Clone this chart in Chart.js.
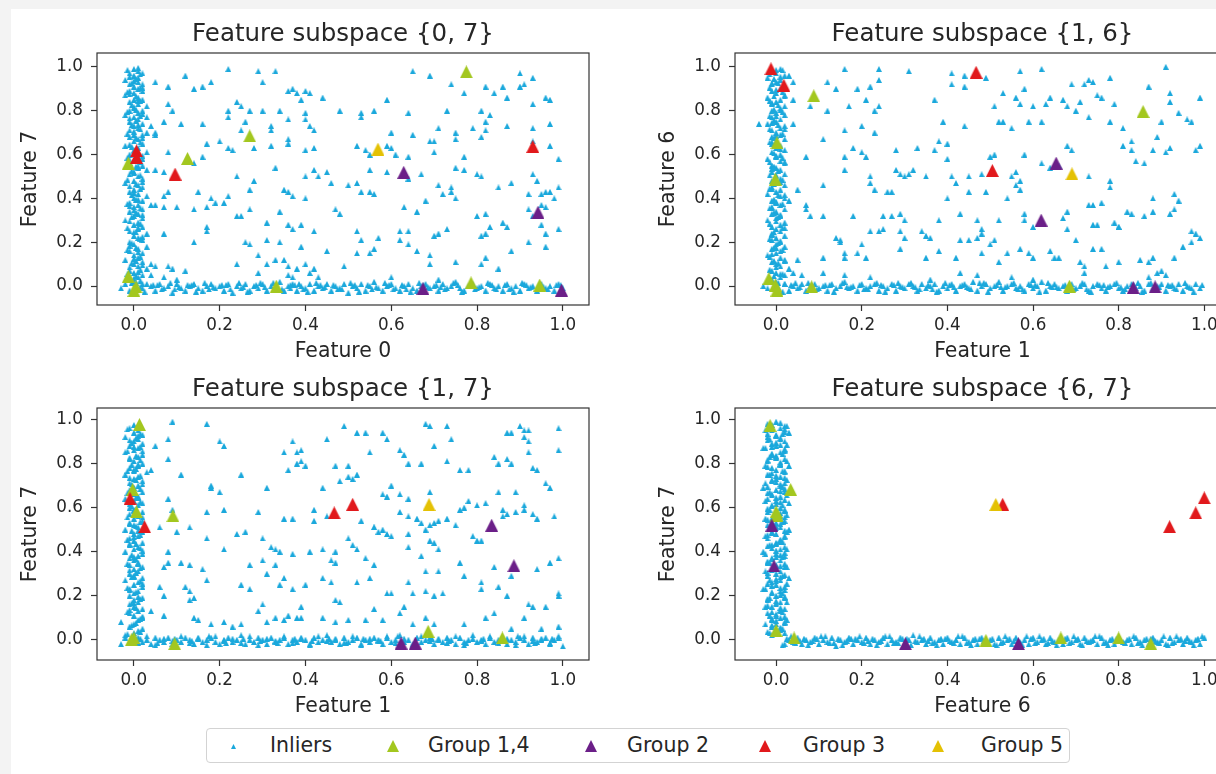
<!DOCTYPE html>
<html>
<head>
<meta charset="utf-8">
<title>Feature subspaces</title>
<script src="https://cdn.jsdelivr.net/npm/chart.js@4.4.1/dist/chart.umd.min.js"></script>
<style>
  html, body { margin: 0; padding: 0; }
  body { width: 1216px; height: 774px; overflow: hidden; position: relative; background: #f3f3f3; font-family: "DejaVu Sans", sans-serif; }
  #sheet { position: absolute; left: 11px; top: 9px; right: 0; bottom: 0; background: #fff; }
  canvas.panel { position: absolute; }
  #legend { position: absolute; left: 206px; top: 728px; width: 862px; height: 33px; border: 1px solid #d3d3d3; border-radius: 4px; background: #fff; }
  #legend .item { position: absolute; top: 0; height: 33px; line-height: 33px; font-size: 20.5px; color: #262626; white-space: nowrap; }
  #legend canvas { position: absolute; }
</style>
</head>
<body>
<div id="sheet"></div>
<canvas id="p07" class="panel" width="610" height="370" style="left:0px;top:0px"></canvas>
<canvas id="p16" class="panel" width="613" height="370" style="left:638px;top:0px"></canvas>
<canvas id="p17" class="panel" width="610" height="370" style="left:0px;top:355px"></canvas>
<canvas id="p67" class="panel" width="613" height="370" style="left:638px;top:355px"></canvas>
<div id="legend"></div>
<script>
// ---- data: flat x,y pairs per subspace ----
const tickValues = [0, 0.2, 0.4, 0.6, 0.8, 1.0];
const seriesNames = ['Inliers', 'Group 1,4', 'Group 2', 'Group 3', 'Group 5'];

// subspace {0, 7}
const p07Scatter = [
  .22,.99, .29,.98, .33,.98, .65,.98, .69,.96, .74,.92, .90,.97, .93,.95, .91,.92, .90,.91,
  .05,.93, .08,.91, .12,.96, .14,.90, .16,.91, .18,.93, .30,.93, .36,.89, .37,.90, .38,.88, .40,.89, .41,.88, .77,.88, .82,.91, .84,.88, .87,.86, .96,.86, .86,.91,
  .08,.83, .09,.80, .22,.80, .24,.84, .25,.82, .27,.80, .30,.80, .34,.80, .39,.85, .40,.79, .44,.86, .48,.80, .53,.79, .56,.80, .59,.85, .64,.79, .73,.80, .81,.80, .83,.78, .93,.83, .97,.85,
  .05,.70, .07,.75, .11,.74, .16,.74, .22,.77, .25,.71, .26,.75, .32,.73, .32,.71, .36,.76, .40,.76, .41,.73, .42,.71, .53,.77, .60,.70, .65,.69, .70,.66, .71,.72, .75,.70, .79,.72, .82,.71, .82,.75, .87,.73, .93,.72, .97,.74, .81,.68,
  .08,.61, .17,.65, .20,.66, .22,.63, .23,.62, .28,.63, .32,.64, .36,.67, .36,.65, .40,.62, .42,.63, .52,.64, .54,.62, .55,.60, .59,.64, .60,.63, .69,.66, .70,.61, .75,.67, .77,.59, .93,.66, .97,.64, .99,.58, .64,.59, .61,.60,
  .05,.53, .07,.52, .14,.56, .16,.59, .24,.50, .28,.48, .33,.54, .40,.50, .42,.53, .45,.52, .55,.53, .59,.52, .64,.49, .67,.51, .75,.54, .77,.53, .80,.51, .81,.50, .88,.47, .93,.51, .94,.48, .96,.43, .99,.45,
  .07,.41, .08,.43, .15,.43, .18,.40, .19,.38, .22,.41, .27,.44, .35,.44, .36,.43, .37,.41, .40,.40, .43,.50, .46,.47, .50,.46, .52,.47, .53,.43, .55,.43, .56,.42, .71,.46, .72,.42, .74,.45, .75,.40, .74,.43, .85,.45, .92,.42, .95,.42, .97,.43, .98,.40,
  .05,.37, .07,.36, .10,.36, .14,.35, .17,.36, .21,.38, .24,.32, .25,.32, .27,.35, .31,.29, .34,.34, .47,.35, .48,.33, .63,.36, .66,.34, .68,.39, .73,.26, .80,.32, .82,.33, .86,.29, .87,.27, .92,.35, .95,.37, .96,.36, .93,.32,
  .07,.24, .14,.20, .17,.25, .17,.27, .26,.20, .27,.19, .31,.21, .34,.20, .36,.28, .37,.26, .39,.28, .42,.25, .52,.25, .53,.21, .57,.22, .62,.25, .62,.21, .64,.25, .64,.19, .70,.23, .71,.24, .81,.23, .82,.24, .83,.27, .92,.20, .95,.28, .96,.24, .99,.26, .96,.18,
  .04,.10, .05,.09, .08,.09, .09,.08, .12,.07, .24,.10, .29,.14, .31,.10, .33,.12, .35,.12, .36,.09, .38,.08, .39,.18, .40,.10, .42,.08, .45,.16, .49,.09, .52,.15, .55,.15, .56,.17, .66,.16, .69,.10, .69,.14, .75,.11, .81,.10, .82,.13, .85,.08, .88,.16,
  .04,.05, .07,.04, .10,.03, .29,.06, .36,.05, .37,.04, .41,.06, .43,.04, .60,.04, .71,.03
];
const p07VBand = [
  .00,.99, .01,.98, -.01,.97, .02,.97, .00,.96, .01,.95, -.02,.94, .01,.93, .02,.92, -.01,.92, .00,.91, .01,.90, -.01,.89, .02,.89, .00,.88, -.02,.87, .01,.86, .00,.85, .02,.85, -.01,.84,
  .01,.83, .03,.82, .00,.81, -.01,.80, .02,.80, .01,.79, -.02,.78, .00,.77, .03,.77, .01,.76, -.01,.75, .02,.74, .04,.73, .00,.73, .01,.72, -.01,.71, .03,.70, .00,.69, .02,.69, .05,.69,
  -.01,.68, .01,.67, .00,.66, .02,.65, -.02,.64, .01,.63, .00,.62, .03,.61, -.01,.60, .01,.59, .02,.58, .00,.57, -.01,.56, .02,.55, .01,.54, .03,.53, .00,.52, -.01,.51, .01,.50, .02,.49,
  .00,.48, -.02,.47, .01,.46, .02,.45, .00,.44, -.01,.43, .01,.42, .03,.41, .00,.40, .02,.39, -.01,.38, .01,.37, .04,.37, .00,.36, .02,.35, -.01,.34, .01,.33, .00,.32, .02,.31, -.02,.30,
  .01,.29, .00,.28, .02,.27, .01,.26, -.01,.25, .03,.24, .00,.23, .01,.22, .02,.21, -.01,.20, .00,.19, .03,.18, .01,.17, -.01,.16, .02,.15, .00,.14, .01,.13, -.02,.12, .02,.11, .00,.10,
  .01,.09, .03,.08, -.01,.07, .00,.06, .02,.05, .01,.04, -.01,.03, .00,.02, .02,.01,
  .01,.995, -.01,.955, .00,.935, .02,.905, -.01,.875, .01,.845, .00,.815, .02,.785, -.01,.765, .01,.735, .00,.705, .02,.675, -.01,.645, .00,.615, .02,.595, -.01,.575, .01,.545, .00,.515,
  .02,.475, -.01,.455, .00,.425, .01,.395, -.01,.365, .00,.345, .02,.325, -.01,.295, .01,.265, .00,.245, .02,.225, -.01,.185, .01,.155, .00,.125, .02,.095, -.01,.085, .01,.065, .00,.035,
  -.015,.985, .015,.965, .005,.945, -.005,.925, .015,.905, -.015,.885, .005,.865, .015,.845, -.005,.825, .005,.805, -.015,.795, .015,.775, .005,.755, -.005,.735, .015,.715, -.015,.695,
  .005,.675, .015,.655, -.005,.635, .005,.605, -.015,.585, .015,.565, .005,.545, -.005,.525, .015,.505, -.015,.485, .005,.465, .015,.445, -.005,.415, .005,.395, -.015,.375, .015,.355,
  .005,.335, -.005,.315, .015,.285, -.015,.265, .005,.245, .015,.215, -.005,.195, .005,.175, -.015,.165, .015,.135, .005,.115, -.005,.105, .015,.075, -.015,.055, .005,.045, .015,.025, -.005,.015
];
const p07HBand = [
  -.03,-.01, -.02,.01, -.01,-.02, .02,-.01, .03,.01, .04,0, .05,-.02, .06,.01, .07,-.01, .08,0, .09,-.03, .10,.01, .11,-.01, .12,-.02, .13,0, .14,.01, .15,-.01, .16,-.02, .17,0, .18,.01,
  .19,-.01, .20,0, .21,-.02, .22,.01, .23,-.03, .24,0, .25,-.01, .26,.01, .27,-.02, .28,0, .29,-.01, .30,.01, .31,-.02, .32,0, .33,-.01, .34,.02, .35,-.02, .36,0, .365,-.01, .37,.01,
  .38,-.02, .39,0, .40,-.01, .41,.01, .42,-.02, .43,0, .44,-.01, .45,.01, .46,-.02, .47,0, .48,-.01, .49,.01, .50,-.03, .51,0, .52,-.01, .53,.01, .54,-.02, .55,0, .56,.02, .57,-.01,
  .58,-.02, .59,0, .60,.01, .61,-.01, .62,-.02, .63,0, .64,.01, .65,-.01, .66,-.02, .67,0, .68,.01, .69,-.01, .70,0, .71,-.02, .72,.01, .73,-.01, .74,0, .75,.02, .76,-.01, .77,-.02,
  .78,0, .79,.01, .80,-.01, .81,0, .82,-.02, .83,.01, .84,-.01, .85,0, .86,-.02, .87,.01, .88,-.01, .89,0, .90,-.02, .91,.01, .92,-.01, .93,0, .94,-.02, .95,.01, .96,-.01, .97,0,
  .98,-.02, .99,.01, 1.0,-.01,
  .015,-.005, .055,.005, .095,-.015, .135,.005, .175,-.015, .215,.005, .255,-.005, .295,.015, .335,-.015, .375,.005, .385,.01, .395,-.015, .435,.005, .475,-.015, .515,.005,
  .555,-.015, .595,.005, .635,-.015, .675,.005, .715,-.005, .755,.005, .795,-.015, .835,.005, .875,-.015, .915,.005, .955,-.005, .985,.005,
  .005,.015, .025,-.025, .045,.005, .065,-.015, .085,.015, .105,-.005, .125,.005, .145,-.025, .165,.015, .185,-.005, .205,.005, .225,-.015, .245,.015, .265,-.025, .285,.005, .305,-.005,
  .325,.015, .345,-.015, .365,.005, .405,-.025, .425,.015, .445,-.005, .465,.005, .485,-.015, .505,.015, .525,-.025, .545,.005, .565,-.005, .585,.015, .605,-.015, .625,.005, .645,-.025,
  .665,.015, .685,-.005, .705,.005, .725,-.015, .745,.015, .765,-.025, .785,.005, .805,-.005, .825,.015, .845,-.015, .865,.005, .885,-.025, .905,.015, .925,-.005, .945,.005, .965,-.015, .995,.005
];
const p07Group14 = [.775,.977, .27,.685, .125,.582, -.013,.561, -.013,.045, .005,-.003, .0,-.02, .332,.0, .786,.015, .946,.005];
const p07Group2 = [.629,.519, .942,.337, .674,-.011, .997,-.018];
const p07Group3 = [.006,.617, .006,.587, .096,.511, .930,.637];
const p07Group5 = [.569,.625];

// subspace {1, 6}
const p16Scatter = [
  .16,.99, .24,.99, .31,.98, .41,.97, .44,.96, .49,.95, .57,.98, .62,.99, .91,1.0, .99,.86,
  .03,.96, .04,.93, .12,.93, .14,.90, .19,.90, .22,.91, .24,.94, .41,.92, .44,.91, .53,.88, .56,.86, .58,.90, .64,.86, .67,.85, .69,.92, .72,.92, .73,.94, .74,.93, .75,.87, .78,.95, .87,.91, .92,.88,
  .04,.85, .08,.82, .12,.80, .17,.82, .21,.85, .23,.80, .24,.82, .37,.85, .51,.82, .57,.83, .60,.82, .63,.83, .68,.82, .70,.80, .71,.84, .76,.86, .79,.83, .92,.84, .94,.79, .81,.72,
  -.04,.74, .04,.74, .16,.71, .20,.73, .23,.70, .39,.75, .44,.73, .52,.75, .53,.75, .55,.72, .59,.75, .62,.75, .73,.77, .78,.75, .83,.66, .90,.75, .96,.76, .97,.75, .89,.68,
  .11,.67, .16,.59, .18,.63, .20,.61, .21,.59, .28,.62, .33,.63, .37,.62, .38,.66, .40,.65, .40,.58, .51,.60, .58,.60, .66,.55, .68,.64, .69,.62, .81,.64, .88,.62, .91,.61, .92,.63, .98,.62, .99,.64,
  .07,.59, .16,.53, .22,.50, .28,.53, .29,.51, .31,.51, .30,.50, .32,.53, .35,.50, .41,.50, .45,.50, .48,.51, .50,.59, .55,.50, .56,.52, .57,.48, .62,.56, .64,.54, .73,.50, .78,.48, .84,.57, .86,.56, .83,.62,
  .05,.44, .11,.46, .22,.47, .23,.44, .26,.43, .27,.43, .40,.40, .42,.47, .45,.43, .49,.43, .54,.40, .56,.46, .57,.44, .73,.37, .74,.37, .76,.38, .78,.45, .88,.40, .93,.42, .94,.39,
  .03,.39, .07,.37, .07,.35, .08,.32, .11,.32, .18,.32, .25,.32, .27,.32, .29,.33, .30,.30, .38,.30, .43,.33, .47,.30, .52,.30, .58,.33, .58,.30, .60,.27, .67,.31, .68,.34, .74,.28, .75,.28,
  .79,.29, .80,.27, .82,.34, .83,.33, .86,.32, .88,.34, .93,.35, .92,.33,
  .14,.22, .15,.21, .15,.20, .20,.19, .22,.25, .24,.25, .25,.26, .29,.25, .30,.22, .34,.25, .35,.23, .36,.22, .43,.21, .45,.21, .47,.22, .48,.26, .48,.24, .50,.19, .51,.21, .57,.17, .68,.26,
  .70,.21, .80,.27, .97,.25, .98,.24, .99,.22, .95,.18, .97,.20,
  .05,.12, .11,.13, .16,.15, .16,.13, .19,.15, .21,.13, .29,.17, .35,.13, .38,.16, .42,.13, .48,.15, .52,.11, .54,.15, .59,.15, .60,.13, .64,.16, .65,.13, .66,.13, .71,.11, .72,.09, .74,.17,
  .76,.17, .77,.09, .80,.11, .85,.12, .87,.11, .88,.13, .93,.13, .90,.07, .89,.06,
  .04,.06, .06,.05, .11,.06, .16,.05, .22,.04, .36,.03, .43,.06, .47,.05, .55,.04, .60,.03, .72,.06, .87,.04, .91,.05
];
const p16VBand = [
  .01,.99, -.01,.98, .00,.97, .02,.96, -.02,.95, .01,.94, .00,.93, -.01,.92, .02,.91, .01,.90, -.01,.89, .00,.88, .02,.87, -.02,.86, .01,.85, .00,.84, -.01,.83, .02,.82, .01,.81, -.01,.80,
  .00,.79, .02,.78, -.01,.77, .01,.76, .00,.75, -.02,.74, .02,.73, .01,.72, -.01,.71, .00,.70, .01,.69, -.01,.68, .02,.67, .00,.66, -.01,.65, .01,.64, .00,.63, .02,.62, -.01,.61, .01,.60,
  .00,.59, -.02,.58, .01,.57, .02,.56, -.01,.55, .00,.54, .01,.53, -.01,.52, .02,.51, .00,.50, .01,.49, -.01,.48, .00,.47, .02,.46, -.01,.45, .01,.44, .00,.43, -.02,.42, .01,.41, .02,.40,
  -.01,.39, .00,.38, .01,.37, -.01,.36, .02,.35, .00,.34, -.01,.33, .01,.32, .00,.31, -.02,.30, .02,.29, .01,.28, -.01,.27, .00,.26, .01,.25, -.01,.24, .02,.23, .00,.22, -.01,.21, .01,.20,
  .00,.19, .02,.18, -.01,.17, .01,.16, .00,.15, -.02,.14, .01,.13, .02,.12, -.01,.11, .00,.10, .01,.09, .03,.08, -.01,.07, .00,.06, .02,.05, .01,.04, -.01,.03, .00,.02, .02,.01,
  .00,.985, .01,.955, -.01,.925, .00,.895, .02,.865, -.01,.835, .01,.805, .00,.775, -.01,.745, .02,.715, .00,.685, -.01,.655, .01,.625, .00,.595, .02,.565, -.01,.535, .00,.505, .01,.475,
  -.01,.445, .02,.415, .00,.385, -.01,.355, .01,.325, .00,.295, .02,.265, -.01,.235, .01,.205, .00,.175, -.01,.145, .02,.115, .00,.085, .01,.055,
  .015,.985, -.015,.965, -.005,.945, .005,.925, -.015,.905, .015,.885, -.005,.865, -.015,.845, .005,.825, -.005,.805, .015,.795, -.015,.775, -.005,.755, .005,.735, -.015,.715, .015,.695,
  -.005,.675, -.015,.655, .005,.635, -.005,.605, .015,.585, -.015,.565, -.005,.545, .005,.525, -.015,.505, .015,.485, -.005,.465, -.015,.445, .005,.415, -.005,.395, .015,.375, -.015,.355,
  -.005,.335, .005,.315, -.015,.285, .015,.265, -.005,.245, -.015,.215, .005,.195, -.005,.175, .015,.165, -.015,.135, -.005,.115, .005,.105, -.015,.075, .015,.055, -.005,.045, -.015,.025, .005,.015
];
const p16HBand = [
  -.03,.00, -.02,-.01, .02,.01, .03,-.02, .04,.00, .05,-.01, .06,.01, .07,-.02, .08,.00, .09,.01, .10,-.01, .11,.00, .12,-.02, .13,.01, .14,-.01, .15,.00, .16,.02, .17,-.01, .18,.00, .19,-.02,
  .20,.01, .21,-.01, .22,.00, .23,.01, .24,-.02, .25,.00, .26,-.01, .27,.01, .28,-.02, .29,.00, .30,-.01, .31,.01, .32,.00, .33,-.02, .34,.01, .35,-.01, .36,.00, .37,.01, .38,-.02, .39,.00,
  .40,-.01, .41,.01, .42,-.02, .43,.00, .44,.01, .45,-.01, .46,.02, .47,-.02, .48,.00, .49,.01, .50,-.01, .51,.00, .52,.02, .53,-.02, .54,.00, .55,.01, .56,-.01, .57,.00, .58,-.02, .59,.01,
  .60,-.01, .61,.00, .62,.02, .63,-.02, .64,.00, .65,.01, .66,-.01, .67,.00, .68,-.02, .69,.01, .70,-.01, .71,.00, .72,.01, .73,-.02, .74,.00, .75,.01, .76,-.01, .77,-.02, .78,.00, .79,.01,
  .80,-.01, .81,-.02, .82,.00, .83,.01, .84,-.01, .85,.00, .86,-.02, .87,.01, .88,-.01, .89,.00, .90,.01, .91,-.02, .92,.00, .93,-.01, .94,.01, .95,-.02, .96,.00, .97,-.01, .98,.01, .99,-.01,
  .005,-.005, .045,.015, .085,-.015, .125,.005, .165,-.005, .205,-.015, .245,.005, .285,.015, .325,-.005, .365,-.015, .405,.005, .445,-.005, .485,.015, .525,-.005, .565,-.015,
  .605,.005, .645,-.005, .685,.005, .725,-.015, .765,.005, .805,-.005, .845,.015, .885,-.015, .925,.005, .965,-.005,
  .015,-.025, .035,.005, .055,-.005, .075,.015, .095,-.015, .115,.005, .135,-.025, .155,.015, .175,-.005, .195,.005, .215,-.015, .235,.015, .255,-.025, .275,.005, .295,-.005, .315,.015,
  .335,-.015, .355,.005, .375,-.025, .395,.015, .415,-.005, .435,.005, .455,-.015, .475,.015, .495,-.025, .515,.005, .535,-.005, .555,.015, .575,-.015, .595,.005, .615,-.025, .635,.015,
  .655,-.005, .675,.005, .695,-.015, .715,.015, .735,-.025, .755,.005, .775,-.005, .795,.015, .815,-.015, .835,.005, .855,-.025, .875,.015, .895,-.005, .915,.005, .935,-.015, .955,.015,
  .975,-.025, .995,.005
];
const p16Group14 = [.088,.868, .857,.796, .002,.654, -.002,.488, -.017,.035, -.002,.005, .002,-.018, .083,-.003, .685,.0];
const p16Group2 = [.654,.561, .619,.301, .834,-.006, .885,-.003];
const p16Group3 = [-.012,.991, .018,.916, .467,.975, .505,.527];
const p16Group5 = [.691,.512];

// subspace {1, 7}
const p17Scatter = [
  .09,.99, .17,.98, .45,.91, .49,.97, .52,.94, .54,.94, .58,.94, .59,.91, .68,.98, .69,.97, .73,.97, .74,.91, .87,.94, .88,.94, .90,.97, .91,.95, .92,.95, .91,.92, .92,.90, .99,.96, .99,.86,
  .05,.88, .08,.91, .20,.90, .21,.88, .37,.90, .35,.85, .38,.85, .39,.86, .55,.85, .62,.86, .63,.84, .64,.80, .67,.80, .70,.88, .73,.81, .78,.77, .84,.83, .85,.80, .87,.82, .88,.80, .92,.85,
  .93,.78, .94,.77,
  .04,.77, .08,.82, .11,.75, .18,.70, .18,.69, .20,.67, .25,.75, .31,.69, .36,.77, .38,.80, .39,.81, .40,.79, .44,.69, .47,.79, .48,.72, .50,.79, .50,.74, .51,.73, .52,.75, .58,.66, .59,.65,
  .60,.70, .62,.66, .64,.64, .69,.67, .73,.55, .76,.77, .78,.63, .80,.61, .82,.62, .85,.67, .86,.59, .89,.67, .91,.61, .96,.71, .97,.69,
  .08,.64, .09,.59, .17,.58, .21,.59, .29,.58, .35,.55, .37,.55, .42,.54, .42,.59, .45,.56, .53,.54, .56,.51, .57,.49, .58,.50, .62,.58, .64,.56, .66,.55, .67,.53, .69,.52, .70,.53, .71,.54,
  .76,.59, .77,.60, .79,.47, .80,.45, .81,.45, .86,.56, .87,.57, .89,.58, .91,.59, .93,.57, .94,.55, .98,.56,
  .06,.51, .08,.40, .10,.49, .13,.51, .17,.46, .21,.41, .24,.48, .26,.49, .30,.46, .32,.42, .33,.41, .34,.40, .37,.39, .41,.40, .44,.41, .46,.36, .47,.40, .50,.46, .51,.43, .52,.41, .56,.51,
  .59,.48, .60,.47, .64,.42, .67,.38, .69,.45, .70,.44, .71,.41, .75,.52, .68,.50, .64,.48,
  .07,.33, .08,.35, .11,.35, .13,.34, .16,.32, .17,.27, .27,.34, .30,.36, .31,.30, .33,.34, .35,.28, .47,.35, .54,.37, .56,.34, .64,.26, .68,.31, .71,.31, .76,.35, .81,.26, .84,.33, .88,.29,
  .97,.35, .99,.37, .94,.32,
  .06,.24, .07,.20, .12,.24, .13,.22, .14,.19, .25,.25, .27,.23, .30,.16, .34,.25, .37,.23, .40,.25, .44,.28, .46,.26, .47,.18, .48,.17, .52,.26, .55,.28, .59,.21, .60,.21, .63,.15, .65,.21,
  .68,.22, .70,.20, .72,.21, .77,.29, .81,.23, .85,.24, .87,.20, .92,.16, .93,.15, .96,.15, .99,.21, .99,.20,
  .04,.13, .07,.11, .13,.18, .14,.10, .15,.09, .18,.07, .21,.08, .23,.06, .25,.07, .29,.13, .31,.08, .33,.10, .35,.09, .36,.11, .38,.10, .39,.15, .39,.10, .44,.10, .47,.08, .50,.09, .54,.09,
  .56,.14, .58,.09, .62,.12, .65,.07, .68,.10, .70,.07, .77,.07, .82,.10, .84,.12, .88,.05, .91,.10, .95,.05, .99,.06
];
const p17VBand = [
  -.01,.96, .01,.95, .00,.94, .02,.93, -.02,.92, .01,.91, .00,.90, .02,.89, -.01,.88, .01,.87, .00,.86, -.02,.85, .02,.84, .01,.83, -.01,.82, .00,.81, .02,.80, .01,.79, -.01,.78, .00,.77,
  .03,.76, -.02,.75, .01,.74, .00,.73, .02,.72, -.01,.71, .01,.70, .00,.69, -.01,.68, .02,.67, .00,.66, .01,.65, -.02,.64, .00,.63, .02,.62, .01,.61, -.01,.60, .00,.59, .02,.58, -.01,.57,
  .01,.56, .00,.55, .02,.54, -.01,.53, .00,.52, .01,.51, -.02,.50, .02,.49, .00,.48, .01,.47, -.01,.46, .00,.45, .02,.44, -.01,.43, .01,.42, .00,.41, -.02,.40, .02,.39, .01,.38, -.01,.37,
  .00,.36, .01,.35, -.01,.34, .02,.33, .00,.32, .01,.31, -.01,.30, .00,.29, .02,.28, -.02,.27, .01,.26, .00,.25, .02,.24, -.01,.23, .01,.22, .00,.21, -.01,.20, .02,.19, .00,.18, .01,.17,
  -.01,.16, .00,.15, .02,.14, .01,.13, -.01,.12, .00,.11, .02,.10, .01,.09, -.03,.08, .00,.07, -.01,.06, .02,.05, .01,.04, .00,.03, -.02,.02, .01,.01,
  .00,.975, .01,.925, -.01,.905, .00,.875, .02,.855, -.01,.825, .01,.795, .00,.765, -.01,.735, .02,.705, .00,.675, .01,.645, -.01,.615, .00,.585, .02,.555, -.01,.525, .01,.495, .00,.465,
  -.01,.435, .02,.405, .00,.375, .01,.345, -.01,.315, .00,.285, .02,.255, -.01,.225, .01,.195, .00,.165, -.01,.135, .02,.105,
  -.015,.955, .015,.935, .005,.915, -.005,.895, .015,.875, -.015,.855, .005,.835, .015,.815, -.005,.795, .005,.775, -.015,.765, .015,.745, .005,.725, -.005,.705, .015,.685, -.015,.665,
  .005,.645, .015,.625, -.005,.605, .005,.575, -.015,.555, .015,.535, .005,.515, -.005,.495, .015,.475, -.015,.455, .005,.435, .015,.415, -.005,.385, .005,.365, -.015,.345, .015,.325,
  .005,.305, -.005,.285, .015,.265, -.015,.235, .005,.215, .015,.185, -.005,.165, .005,.145, -.015,.125, .015,.095, .005,.075, -.005,.065, .015,.035, -.015,.025, .005,.005
];
const p17HBand = [
  -.03,-.02, -.02,.01, .02,-.01, .03,.00, .04,-.02, .05,.01, .06,.00, .07,-.01, .08,.01, .09,-.02, .10,.00, .11,-.01, .12,.01, .13,.00, .14,-.02, .15,.01, .16,-.01, .17,.00, .18,.01, .19,-.01,
  .20,-.02, .21,.00, .22,.01, .23,-.01, .24,.00, .25,.02, .26,-.02, .27,.00, .28,-.01, .29,.01, .30,.00, .31,-.02, .32,.01, .33,-.01, .34,.00, .35,.01, .36,-.02, .37,.00, .38,-.01, .39,.01,
  .40,.00, .41,-.02, .42,.01, .43,-.01, .44,.00, .45,.02, .46,-.01, .47,.00, .48,-.02, .49,.01, .50,-.01, .51,.00, .52,.01, .53,-.02, .54,.00, .55,-.01, .56,.01, .57,.00, .58,-.02, .59,.01,
  .60,-.01, .61,.00, .62,.02, .63,-.01, .64,.00, .65,-.02, .66,.01, .67,-.01, .68,.00, .69,.01, .70,-.02, .71,.00, .72,-.01, .73,.01, .74,.00, .75,-.02, .76,.01, .77,-.01, .78,.00, .79,.02,
  .80,-.01, .81,.00, .82,-.02, .83,.01, .84,-.01, .85,.00, .86,.01, .87,-.02, .88,.00, .89,-.01, .90,.01, .91,.00, .92,-.02, .93,.01, .94,-.01, .95,.00, .96,.01, .97,-.02, .98,.00, .99,.01,
  1.0,-.03,
  .015,.005, .055,-.015, .095,.005, .135,-.005, .175,.015, .215,-.015, .255,.005, .295,-.005, .335,-.015, .375,.005, .415,-.005, .455,.005, .495,-.015, .535,.005, .575,-.005,
  .615,.015, .655,-.015, .695,.005, .735,-.005, .775,-.015, .815,.005, .855,-.005, .895,.015, .935,-.015, .975,.005,
  .01,-.015, .03,.015, .05,-.025, .07,.005, .09,-.005, .11,.015, .13,-.015, .15,.005, .17,-.025, .19,.015, .21,-.005, .23,.005, .25,-.015, .27,.015, .29,-.025, .31,.005, .33,-.005,
  .35,.015, .37,-.015, .39,.005, .41,-.025, .43,.015, .45,-.005, .47,.005, .49,-.015, .51,.015, .53,-.025, .55,.005, .57,-.005, .59,.015, .61,-.015, .63,.005, .65,-.025, .67,.015,
  .69,-.005, .71,.005, .73,-.015, .75,.015, .77,-.025, .79,.005, .81,-.005, .83,.015, .85,-.015, .87,.005, .89,-.025, .91,.015, .93,-.005, .95,.005, .97,-.015, .99,.015
];
const p17Group14 = [.013,.977, -.003,.682, .006,.581, .091,.563, .0,.008, -.006,.0, .095,-.018, .686,.038, .859,.008];
const p17Group2 = [.834,.520, .886,.336, .623,-.015, .656,-.015];
const p17Group3 = [-.009,.641, .025,.513, .467,.576, .510,.615];
const p17Group5 = [.688,.614];

// subspace {6, 7}
const p67VBand = [
  .00,.99, -.02,.98, .02,.97, .01,.96, -.01,.95, .03,.94, .00,.93, -.02,.92, .01,.91, .02,.90, -.01,.89, .00,.88, -.03,.87, .02,.86, .01,.85, -.01,.84, .00,.83, .02,.82, -.02,.81, .01,.80,
  .03,.79, -.01,.78, .00,.77, .02,.76, -.02,.75, .01,.74, .00,.73, -.01,.72, .02,.71, .01,.70, -.03,.69, .00,.68, .02,.67, -.01,.66, .01,.65, -.02,.64, .00,.63, .03,.62, -.01,.61, .01,.60,
  .02,.59, -.02,.58, .00,.57, .01,.56, -.01,.55, .02,.54, .00,.53, -.02,.52, .01,.51, .03,.50, -.01,.49, .00,.48, .02,.47, -.02,.46, .01,.45, .00,.44, -.01,.43, .02,.42, .01,.41, -.03,.40,
  .00,.39, .02,.38, -.01,.37, .01,.36, -.02,.35, .00,.34, .02,.33, -.01,.32, .01,.31, .00,.30, -.02,.29, .03,.28, .01,.27, -.01,.26, .00,.25, .02,.24, -.03,.23, .01,.22, -.01,.21, .00,.20,
  .02,.19, -.02,.18, .01,.17, .00,.16, -.01,.15, .02,.14, .01,.13, -.02,.12, .00,.11, .01,.10, -.01,.09, .02,.08, .00,.07, -.01,.06, .01,.05, .00,.04, .02,.03, -.01,.02,
  .01,.985, -.01,.965, .02,.945, .00,.925, -.02,.905, .01,.885, .02,.865, -.01,.845, .00,.825, .01,.805, -.02,.785, .02,.765, .00,.745, -.01,.725, .01,.705, .02,.685, -.02,.665, .00,.645,
  .01,.625, -.01,.605, .02,.585, .00,.565, -.02,.545, .01,.525, .00,.505, -.01,.485, .02,.465, .01,.445, -.02,.425, .00,.405, .01,.385, -.01,.365, .02,.345, .00,.325, -.02,.305, .01,.285,
  .00,.265, -.01,.245, .02,.225, .01,.205, -.02,.185, .00,.165, .01,.145, -.01,.125, .02,.105, .00,.085, -.01,.065, .01,.045, .00,.025,
  -.01,.975, .02,.955, -.02,.935, .01,.915, .00,.895, -.01,.875, .02,.855, .00,.835, -.02,.815, .01,.795, -.01,.755, .02,.735, .00,.715, -.02,.695, .01,.675, -.01,.655, .02,.635, .00,.615,
  -.02,.595, .01,.575, .02,.555, -.01,.535, .00,.515, .02,.495, -.02,.475, .01,.455, .00,.435, -.01,.415, .02,.395, .00,.375, -.02,.355, .01,.335, -.01,.315, .02,.295, .00,.275, -.02,.255,
  .01,.235, -.01,.215, .02,.195, .00,.175, -.02,.155, .01,.135, .00,.115, -.01,.095, .02,.075, .01,.055, -.02,.035,
  .025,.97, -.025,.95, .015,.935, -.015,.91, .025,.885, -.025,.87, .015,.845, -.015,.83, .025,.81, -.025,.79, .015,.765, -.015,.75, .025,.725, -.025,.71, .015,.695, -.015,.67, .025,.655,
  -.025,.63, .015,.61, -.015,.59, .025,.565, -.025,.55, .015,.535, -.015,.51, .025,.49, -.025,.47, .015,.445, -.015,.43, .025,.41, -.025,.39, .015,.375, -.015,.35, .025,.33, -.025,.31,
  .015,.29, -.015,.27, .025,.255, -.025,.23, .015,.21, -.015,.19, .025,.17, -.025,.15, .015,.125, -.015,.11, .025,.09, -.025,.07, .015,.05, -.015,.03
];
const p67HBand = [
  .02,-.02, .03,.00, .04,-.01, .05,.01, .06,-.02, .07,.00, .08,-.01, .09,.01, .10,-.02, .11,.00, .12,-.01, .13,.01, .14,-.03, .15,.00, .16,-.01, .17,.01, .18,-.02, .19,.00, .20,-.01, .21,.01,
  .22,-.02, .23,.00, .24,-.01, .25,.01, .26,-.02, .27,.00, .28,-.01, .29,.01, .30,-.02, .31,.00, .32,.02, .33,-.01, .34,.00, .35,-.02, .36,.01, .37,-.01, .38,.00, .39,-.02, .40,.01, .41,-.01,
  .42,.00, .43,-.02, .44,.01, .45,-.01, .46,.00, .47,-.02, .48,.01, .49,-.01, .50,.00, .51,-.02, .52,.01, .53,-.01, .54,.00, .55,-.02, .56,.01, .57,-.01, .58,.00, .59,-.02, .60,.01, .61,-.01,
  .62,.00, .63,-.02, .64,.01, .65,-.01, .66,.00, .67,-.02, .68,.01, .69,-.01, .70,.00, .71,-.02, .72,.01, .73,-.01, .74,.00, .75,-.02, .76,.01, .77,-.01, .78,.00, .79,-.02, .80,.01, .81,-.01,
  .82,.00, .83,-.02, .84,.01, .85,-.01, .86,.00, .87,-.02, .88,.01, .89,-.01, .90,.00, .91,-.02, .92,.01, .93,-.01, .94,.00, .95,-.02, .96,.01, .97,-.01, .98,.00, .99,-.02, 1.0,.01,
  .025,.005, .045,-.015, .065,.005, .085,-.005, .105,.015, .125,-.015, .145,.005, .165,-.005, .185,.005, .205,-.015, .225,.005, .245,-.005, .265,.015, .285,-.015, .305,.005, .325,-.005,
  .345,.005, .365,-.015, .385,.005, .405,-.005, .425,.015, .445,-.015, .465,.005, .485,-.005, .505,.005, .525,-.015, .545,.005, .565,-.005, .585,.015, .605,-.015, .625,.005, .645,-.005,
  .665,.005, .685,-.015, .705,.005, .725,-.005, .745,.015, .765,-.015, .785,.005, .805,-.005, .825,.005, .845,-.015, .865,.005, .885,-.005, .905,.015, .925,-.015, .945,.005, .965,-.005, .985,.005,
  .015,-.025, .035,.015, .055,-.005, .075,-.025, .095,.005, .115,.015, .135,-.015, .155,-.025, .175,.005, .195,.015, .215,-.005, .235,-.025, .255,.015, .275,-.015, .295,.005, .315,-.025,
  .335,.015, .355,-.005, .375,-.025, .395,.005, .415,-.015, .435,.015, .455,-.025, .475,.005, .495,-.015, .515,-.025, .535,.015, .555,-.005, .575,-.025, .595,.005, .615,.015, .635,-.015,
  .655,-.025, .675,.005, .695,.015, .715,-.025, .735,-.005, .755,.015, .775,-.025, .795,.005, .815,-.015, .835,.015, .855,-.025, .875,.005, .895,-.015, .915,-.025, .935,.015, .955,-.005,
  .975,-.025, .995,.015
];
const p67Group14 = [-.014,.973, .034,.682, .0,.581, .002,.566, .0,.042, .042,.008, .49,-.003, .665,.008, .80,.008, .875,-.018];
const p67Group2 = [-.01,.52, -.005,.335, .302,-.018, .566,-.018];
const p67Group3 = [.529,.615, .919,.513, .980,.576, 1.0,.644];
const p67Group5 = [.513,.614];

// ---- styling ----
const ink = '#262626';
const seriesColors = ['#1aa8dc', '#a3c71f', '#6b1f88', '#e1191c', '#e4c104'];
Chart.defaults.font.family = '"DejaVu Sans", sans-serif';
Chart.defaults.color = ink;

function pairs(flat) {
  const pts = [];
  for (let i = 0; i < flat.length; i += 2) pts.push({ x: flat[i], y: flat[i + 1] });
  return pts;
}

// matplotlib-style '^' marker: as wide as it is tall
function makeTriangle(size, color) {
  const c = document.createElement('canvas');
  c.width = c.height = size;
  const g = c.getContext('2d');
  g.fillStyle = color;
  g.beginPath();
  g.moveTo(size / 2, 0);
  g.lineTo(size, size);
  g.lineTo(0, size);
  g.closePath();
  g.fill();
  return c;
}

const plotMarks = seriesColors.map((c, i) => makeTriangle(i === 0 ? 6 : 13, c));

// box around the plot area, like axes spines
const framePlugin = {
  id: 'frame',
  afterDraw(chart) {
    const { ctx, chartArea: a } = chart;
    ctx.save();
    ctx.strokeStyle = '#333';
    ctx.lineWidth = 1.2;
    ctx.strokeRect(a.left, a.top, a.right - a.left, a.bottom - a.top);
    ctx.restore();
  }
};

function axisOptions(label, range, isY) {
  return {
    type: 'linear',
    min: range[0],
    max: range[1],
    afterBuildTicks: s => { s.ticks = tickValues.map(v => ({ value: v })); },
    afterFit: s => { if (isY) s.width = 97; else s.height = 65; },
    ticks: {
      autoSkip: false, maxRotation: 0, padding: isY ? 8 : 5,
      color: ink, font: { size: 16.8 },
      callback: v => Number(v).toFixed(1)
    },
    grid: { display: true, drawOnChartArea: false, drawTicks: true, tickLength: 6, tickWidth: 1.2, tickColor: '#333', color: '#333' },
    border: { display: false },
    title: {
      display: true, text: label, color: ink, font: { size: 20.4 },
      padding: isY ? { top: 18, bottom: 0 } : { top: 0, bottom: 6 }
    }
  };
}

const panels = [
  { id: 'p07', title: 'Feature subspace {0, 7}', xLabel: 'Feature 0', yLabel: 'Feature 7',
    inliers: [p07Scatter, p07VBand, p07HBand], groups: [p07Group14, p07Group2, p07Group3, p07Group5],
    xRange: [-0.086, 1.061], yRange: [-0.086, 1.063] },
  { id: 'p16', title: 'Feature subspace {1, 6}', xLabel: 'Feature 1', yLabel: 'Feature 6',
    inliers: [p16Scatter, p16VBand, p16HBand], groups: [p16Group14, p16Group2, p16Group3, p16Group5],
    xRange: [-0.096, 1.06], yRange: [-0.086, 1.063] },
  { id: 'p17', title: 'Feature subspace {1, 7}', xLabel: 'Feature 1', yLabel: 'Feature 7',
    inliers: [p17Scatter, p17VBand, p17HBand], groups: [p17Group14, p17Group2, p17Group3, p17Group5],
    xRange: [-0.086, 1.061], yRange: [-0.092, 1.052] },
  { id: 'p67', title: 'Feature subspace {6, 7}', xLabel: 'Feature 6', yLabel: 'Feature 7',
    inliers: [p67VBand, p67HBand], groups: [p67Group14, p67Group2, p67Group3, p67Group5],
    xRange: [-0.096, 1.06], yRange: [-0.092, 1.052] }
];

panels.forEach(p => {
  const datasets = [{
    label: seriesNames[0],
    data: pairs([].concat(...p.inliers)),
    pointStyle: plotMarks[0], pointRadius: 3, order: 10
  }];
  p.groups.forEach((g, i) => {
    datasets.push({
      label: seriesNames[i + 1],
      data: pairs(g),
      pointStyle: plotMarks[i + 1], pointRadius: 6.5, order: 4 - i
    });
  });

  new Chart(document.getElementById(p.id), {
    type: 'scatter',
    data: { datasets },
    options: {
      responsive: false,
      animation: false,
      devicePixelRatio: 1,
      events: [],
      layout: { padding: { left: 0, right: 21, top: 0, bottom: 0 } },
      elements: { point: { borderWidth: 0, hoverRadius: 0 } },
      plugins: {
        legend: { display: false },
        tooltip: { enabled: false },
        title: {
          display: true, text: p.title, fullSize: false, color: ink,
          font: { size: 24.5, weight: 'normal' }, padding: { top: 20, bottom: 3.6 }
        }
      },
      scales: {
        x: axisOptions(p.xLabel, p.xRange, false),
        y: axisOptions(p.yLabel, p.yRange, true)
      }
    },
    plugins: [framePlugin]
  });
});

// shared legend under the grid
const legendMarkX = [26, 186, 384, 558, 731];
const legendTextX = [63, 221, 420, 596, 774];
const legend = document.getElementById('legend');
seriesNames.forEach((name, i) => {
  const m = makeTriangle(i === 0 ? 5 : 12, seriesColors[i]);
  m.style.left = (legendMarkX[i] - m.width / 2) + 'px';
  m.style.top = (17 - m.height / 2) + 'px';
  legend.appendChild(m);
  const t = document.createElement('span');
  t.className = 'item';
  t.textContent = name;
  t.style.left = legendTextX[i] + 'px';
  legend.appendChild(t);
});
</script>
</body>
</html>
